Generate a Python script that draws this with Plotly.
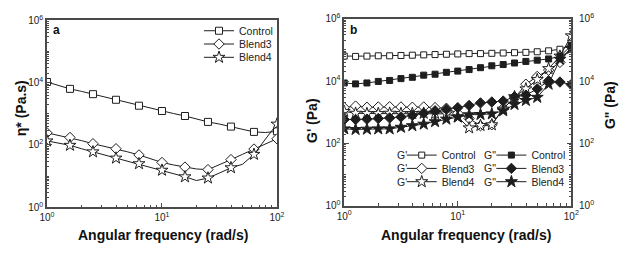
import plotly.graph_objects as go

# ---------------- data ----------------
freq = [1.0, 1.259, 1.585, 1.995, 2.512, 3.162, 3.981, 5.012, 6.310, 7.943,
        10.0, 12.59, 15.85, 19.95, 25.12, 31.62, 39.81, 50.12, 63.10, 79.43, 100.0]

# panel a: complex viscosity (Pa.s)
eta_control = [10470, 8130, 6310, 5250, 4270, 3470, 2820, 2240, 1820, 1480, 1230,
               1020, 851, 676, 550, 468, 389, 316, 263, 251, 275]
eta_blend3 = [245, 204, 174, 138, 110, 91.2, 75.9, 60.3, 47.9, 36.3, 27.5,
              22.9, 19.5, 17.0, 16.2, 22.9, 33.9, 50.1, 74.1, 110, 158]
eta_blend4 = [135, 115, 97.7, 75.9, 60.3, 47.9, 38.0, 30.9, 25.1, 20.0, 15.5,
              12.3, 9.55, 7.24, 8.71, 12.6, 18.6, 24.0, 50.1, 155, 468]

# panel b: storage modulus G' (Pa)
gp_control = [63100, 61700, 63100, 64600, 64600, 66100, 67600, 69200, 70800, 72400, 74100,
              75900, 75900, 77600, 79400, 81300, 83200, 87100, 93300, 104700, 141000]
gp_blend3 = [1410, 1580, 1450, 1480, 1510, 1480, 1450, 1480, 1410, 1350, 933,
             631, 372, 398, 1350, 2820, 7940, 14100, 22400, 39800, 126000]
gp_blend4 = [1070, 933, 912, 912, 933, 912, 912, 933, 912, 891, 708,
             316, 380, 398, 1260, 3160, 5620, 11200, 25100, 63100, 282000]
# panel b: loss modulus G'' (Pa)
gpp_control = [8710, 8130, 8710, 9770, 10500, 12000, 13200, 15500, 16600, 19100, 20900,
               23400, 26900, 30900, 33900, 38000, 42700, 46800, 51300, 61700, 138000]
gpp_blend3 = [589, 589, 603, 631, 661, 708, 794, 933, 1120, 1260, 1410,
              1660, 2000, 2140, 2290, 3160, 3550, 5620, 10200, 9330, 7760]
gpp_blend4 = [295, 282, 288, 295, 295, 331, 372, 417, 501, 603, 708,
              832, 851, 891, 1120, 1780, 2400, 3020, 7940, 50100, 112000]

series_names = ["Control", "Blend3", "Blend4"]
x_tick_vals = [1, 10, 100]
x_tick_text = ["10<sup>0</sup>", "10<sup>1</sup>", "10<sup>2</sup>"]
y_tick_vals = [1, 1e2, 1e4, 1e6]
y_tick_text = ["10<sup>0</sup>", "10<sup>2</sup>", "10<sup>4</sup>", "10<sup>6</sup>"]

# ---------------- style ----------------
W, H = 629, 257
LINE = "#1e1e1e"
FRAME = "#4a4a4a"
FONT = "Liberation Sans, Arial, sans-serif"


def px(x):
    return x / W


def py(y):
    return 1 - y / H


x_minor = [m * 10 ** d for d in range(0, 2) for m in range(2, 10)]
y_minor = [m * 10 ** d for d in range(0, 6) for m in range(1, 10) if not (m == 1 and d % 2 == 0)]

fig = go.Figure()


def alt(on, off, n):
    return [on if i % 2 == 0 else off for i in range(n)]


n = len(freq)
TR = "rgba(0,0,0,0)"

# panel a traces (markers on every other point)
for name, vals, sym, size, lg in [
    ("Control", eta_control, "square", 7, "legend"),
    ("Blend3", eta_blend3, "diamond", 8, "legend2"),
    ("Blend4", eta_blend4, "star", 9, "legend3"),
]:
    fig.add_trace(go.Scatter(
        x=freq, y=vals, mode="lines+markers", name=name, legend=lg,
        line=dict(color=LINE, width=1),
        marker=dict(symbol=sym, size=size, color=alt("white", TR, n),
                    line=dict(color=alt(LINE, TR, n), width=1)),
        xaxis="x", yaxis="y"))

# panel b traces
for name, vals, sym, size, fill, ax, lg in [
    ("Control", gp_control, "square", 6, "white", "y2", "legend4"),
    ("Blend3", gp_blend3, "diamond", 8, "white", "y2", "legend5"),
    ("Blend4", gp_blend4, "star", 9, "white", "y2", "legend6"),
    ("Control", gpp_control, "square", 6, LINE, "y3", "legend7"),
    ("Blend3", gpp_blend3, "diamond", 8, LINE, "y3", "legend8"),
    ("Blend4", gpp_blend4, "star", 9, LINE, "y3", "legend9"),
]:
    fig.add_trace(go.Scatter(
        x=freq, y=vals, mode="lines+markers", name=name, legend=lg,
        line=dict(color=LINE, width=1),
        marker=dict(symbol=sym, size=size, color=fill, line=dict(color=LINE, width=1)),
        xaxis="x2", yaxis=ax))

TICKFONT = dict(family=FONT, size=10, color="#222")
common_x = dict(type="log", range=[0, 2], showline=True, linecolor=FRAME, linewidth=1.5,
                mirror=True, ticks="inside", ticklen=5, tickwidth=1, tickcolor=FRAME,
                tickvals=x_tick_vals, ticktext=x_tick_text, showgrid=False, zeroline=False,
                tickfont=TICKFONT,
                minor=dict(tickvals=x_minor, ticks="inside", ticklen=3, tickcolor=FRAME))
common_y = dict(type="log", range=[0, 6], showline=True, linecolor=FRAME, linewidth=1.5,
                ticks="inside", ticklen=5, tickwidth=1, tickcolor=FRAME,
                tickvals=y_tick_vals, ticktext=y_tick_text, showgrid=False, zeroline=False,
                tickfont=TICKFONT,
                minor=dict(tickvals=y_minor, ticks="inside", ticklen=2.5, tickcolor=FRAME))

legend_base = dict(bgcolor="rgba(0,0,0,0)", borderwidth=0, xanchor="left", yanchor="middle",
                   font=dict(family=FONT, size=10.5, color="#222"), itemwidth=30)

layout_legends = {}
# panel a legend rows
for lg, yy in [("legend", 25), ("legend2", 39), ("legend3", 53)]:
    layout_legends[lg] = dict(legend_base, x=px(196), y=py(yy))
# panel b legend rows (two columns)
for lg, xx, yy in [("legend4", 404, 156), ("legend5", 404, 170), ("legend6", 404, 184),
                   ("legend7", 496, 156), ("legend8", 496, 170), ("legend9", 496, 184)]:
    layout_legends[lg] = dict(legend_base, x=px(xx), y=py(yy))

TITLEFONT = dict(family=FONT, size=14, color="#111")
annotations = [
    dict(text="<b>Angular frequency (rad/s)</b>", x=px(159), y=py(240)),
    dict(text="<b>Angular frequency (rad/s)</b>", x=px(470), y=py(240)),
    dict(text="<b>η* (Pa.s)</b>", x=px(13), y=py(107), textangle=-90),
    dict(text="<b>G' (Pa)</b>", x=px(312), y=py(120), textangle=-90),
    dict(text='<b>G" (Pa)</b>', x=px(617), y=py(103), textangle=-90),
]
for a in annotations:
    a.update(xref="paper", yref="paper", showarrow=False, font=TITLEFONT,
             xanchor="center", yanchor="middle")
for t, xx, yy in [("a", 50, 24), ("b", 355, 24)]:
    annotations.append(dict(text="<b>%s</b>" % t, x=px(xx), y=py(yy), xref="paper", yref="paper",
                            xanchor="center", yanchor="middle", showarrow=False,
                            font=dict(family=FONT, size=12, color="#111")))
for yy in [156, 170, 184]:
    annotations.append(dict(text="G'", x=px(411), y=py(yy), xanchor="right", yanchor="middle",
                            xref="paper", yref="paper", showarrow=False,
                            font=dict(family=FONT, size=10.5, color="#222")))
    annotations.append(dict(text='G"', x=px(503), y=py(yy), xanchor="right", yanchor="middle",
                            xref="paper", yref="paper", showarrow=False,
                            font=dict(family=FONT, size=10.5, color="#222")))

fig.update_layout(
    width=W, height=H, margin=dict(l=0, r=0, t=0, b=0),
    paper_bgcolor="white", plot_bgcolor="white", showlegend=True,
    xaxis=dict(common_x, domain=[px(40), px(276)], anchor="y"),
    yaxis=dict(common_y, domain=[1 - 211 / H, 1 - 14 / H], anchor="x", mirror=True),
    xaxis2=dict(common_x, domain=[px(345), px(578)], anchor="y2"),
    yaxis2=dict(common_y, domain=[1 - 209.5 / H, 1 - 12.3 / H], anchor="x2"),
    yaxis3=dict(common_y, domain=[1 - 209.5 / H, 1 - 12.3 / H], anchor="x2",
                overlaying="y2", side="right", ticklabelstandoff=4),
    annotations=annotations,
    **layout_legends,
)

fig.write_html("out.html")
